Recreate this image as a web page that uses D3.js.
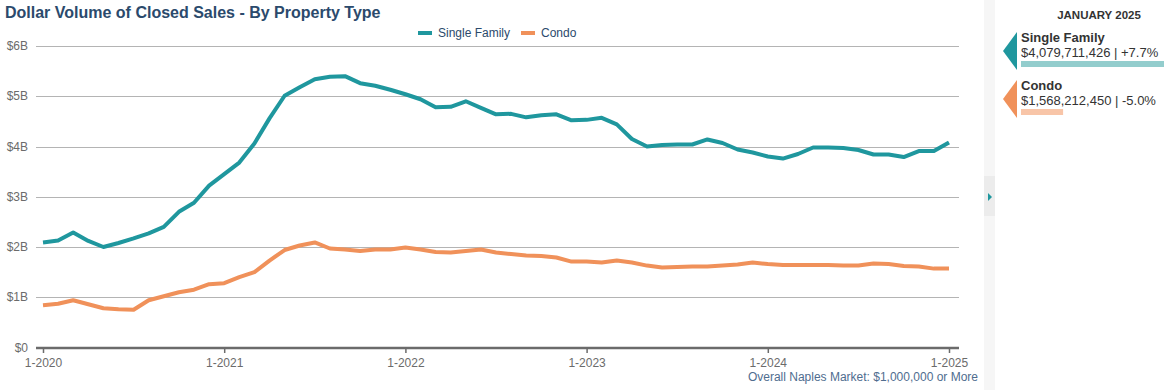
<!DOCTYPE html>
<html>
<head>
<meta charset="utf-8">
<script src="https://cdn.jsdelivr.net/npm/d3@7"></script>
<style>
  body { margin: 0; background: #fff; font-family: "Liberation Sans", Arial, sans-serif; }
</style>
</head>
<body>
<div id="chart"></div>
<script>
// month labels 1-2020 .. 1-2025, values in billions
var months = d3.range(61).map(i => (i % 12 + 1) + "-" + (2020 + Math.floor(i / 12)));
var singleFamily = [2.09, 2.13, 2.29, 2.12, 2.00, 2.08, 2.17, 2.27, 2.40, 2.70, 2.88, 3.22,
    3.45, 3.68, 4.06, 4.56, 5.01, 5.18, 5.34, 5.39, 5.40, 5.26, 5.21, 5.13,
    5.04, 4.94, 4.78, 4.79, 4.90, 4.77, 4.64, 4.65, 4.58, 4.62, 4.64, 4.52,
    4.53, 4.57, 4.44, 4.15, 4.00, 4.03, 4.04, 4.04, 4.14, 4.07, 3.94, 3.88,
    3.80, 3.76, 3.85, 3.98, 3.98, 3.97, 3.93, 3.84, 3.84, 3.79, 3.91, 3.91, 4.08];
var condo = [0.84, 0.87, 0.94, 0.86, 0.78, 0.76, 0.75, 0.94, 1.02, 1.10, 1.15, 1.26,
    1.28, 1.40, 1.50, 1.73, 1.94, 2.03, 2.09, 1.97, 1.95, 1.92, 1.95, 1.95,
    1.99, 1.95, 1.90, 1.89, 1.92, 1.95, 1.89, 1.86, 1.83, 1.82, 1.79, 1.71,
    1.71, 1.69, 1.73, 1.69, 1.63, 1.59, 1.60, 1.61, 1.61, 1.63, 1.65, 1.69,
    1.66, 1.64, 1.64, 1.64, 1.64, 1.63, 1.63, 1.67, 1.66, 1.62, 1.61, 1.57, 1.57];
var yTicks = [0, 1, 2, 3, 4, 5, 6];
var xTickLabels = ["1-2020", "1-2021", "1-2022", "1-2023", "1-2024", "1-2025"];
var seriesNames = ["Single Family", "Condo"];
var seriesColors = ["#1f979e", "#f0915a"];
var barColors = ["#93cdcd", "#f8c5a8"];
var latestLabels = ["$4,079,711,426 | +7.7%", "$1,568,212,450 | -5.0%"];
var latestValues = [4.0797, 1.5682];

var svgWidth = 1164;
var svgHeight = 390;
var margin = { top: 46, bottom: 43, left: 36, right: 205 };
var width = svgWidth - margin.left - margin.right;
var height = svgHeight - margin.top - margin.bottom;

var svg = d3.select("#chart").append("svg")
    .attr("width", svgWidth)
    .attr("height", svgHeight);

// title
svg.append("text")
    .attr("x", 5).attr("y", 18)
    .attr("font-size", 16).attr("font-weight", "bold")
    .attr("fill", "#2b4a6c")
    .text("Dollar Volume of Closed Sales - By Property Type");

var chartGroup = svg.append("g")
    .attr("transform", `translate(${margin.left}, ${margin.top})`);

var xScale = d3.scalePoint()
    .domain(months)
    .range([7, 913]);
var yScale = d3.scaleLinear()
    .domain([0, 6])
    .range([height + 0.5, 0]);

// gridlines
chartGroup.selectAll(".grid")
    .data(yTicks.slice(1))
    .enter().append("line")
    .attr("x1", 0).attr("x2", width)
    .attr("y1", d => Math.round(yScale(d)) + 0.5)
    .attr("y2", d => Math.round(yScale(d)) + 0.5)
    .attr("stroke", "#b4b4b4").attr("stroke-width", 1);

// y labels
chartGroup.selectAll(".ylab")
    .data(yTicks)
    .enter().append("text")
    .attr("x", -8).attr("y", d => yScale(d) + 4)
    .attr("text-anchor", "end")
    .attr("font-size", 12).attr("fill", "#6b6b6b")
    .text(d => d === 0 ? "$0" : "$" + d + "B");

// x axis
var bottomAxis = d3.axisBottom(xScale)
    .tickValues(xTickLabels)
    .tickSize(5);
var xAxis = chartGroup.append("g")
    .attr("transform", `translate(0, ${height + 1})`)
    .call(bottomAxis);
xAxis.select(".domain").attr("stroke", "#6b6b6b").attr("stroke-width", 2.5)
    .attr("d", `M0,0H${width}`);
xAxis.selectAll(".tick line").attr("stroke", "#6b6b6b").attr("stroke-width", 1.5);
xAxis.selectAll(".tick text")
    .attr("font-size", 12).attr("fill", "#6b6b6b")
    .attr("font-family", "Liberation Sans, Arial, sans-serif")
    .attr("dy", "0.9em");

// lines
var line = d3.line()
    .x((d, i) => xScale(months[i]))
    .y(d => yScale(d));
[singleFamily, condo].forEach(function(data, k) {
    chartGroup.append("path")
        .datum(data)
        .attr("fill", "none")
        .attr("stroke", seriesColors[k])
        .attr("stroke-width", 4)
        .attr("stroke-linejoin", "round")
        .attr("d", line);
});

// legend
var legend = svg.append("g").attr("transform", "translate(418, 33)");
var legendX = [0, 103];
seriesNames.forEach(function(name, k) {
    var g = legend.append("g").attr("transform", `translate(${legendX[k]}, 0)`);
    g.append("rect").attr("x", 0).attr("y", -2).attr("width", 14).attr("height", 4)
        .attr("fill", seriesColors[k]);
    g.append("text").attr("x", 20).attr("y", 4)
        .attr("font-size", 12).attr("fill", "#2b4a6c")
        .text(name);
});

// footer
svg.append("text")
    .attr("x", 978).attr("y", 381)
    .attr("text-anchor", "end")
    .attr("font-size", 12).attr("fill", "#4f6d8f")
    .text("Overall Naples Market: $1,000,000 or More");

// divider strip with toggle tab
svg.append("rect").attr("x", 984).attr("y", 0).attr("width", 11).attr("height", svgHeight)
    .attr("fill", "#f6f6f6");
svg.append("rect").attr("x", 984).attr("y", 176).attr("width", 11).attr("height", 40)
    .attr("fill", "#ececec");
svg.append("path").attr("d", "M988,193L992,197L988,201Z").attr("fill", "#1f979e");

// side panel
svg.append("text")
    .attr("x", 1099).attr("y", 19)
    .attr("text-anchor", "middle")
    .attr("font-size", 11.5).attr("font-weight", "bold").attr("fill", "#333")
    .text("JANUARY 2025");

var barScale = d3.scaleLinear().domain([0.52, 4.0797]).range([0, 143]);
seriesNames.forEach(function(name, k) {
    var top = 32 + k * 48;
    var g = svg.append("g").attr("transform", `translate(0, ${top})`);
    g.append("path")
        .attr("d", "M1017,0L1017,38L1003,19Z")
        .attr("fill", seriesColors[k]);
    g.append("text").attr("x", 1021).attr("y", 10)
        .attr("font-size", 13).attr("font-weight", "bold").attr("fill", "#333")
        .text(name);
    g.append("text").attr("x", 1021).attr("y", 25)
        .attr("font-size", 13).attr("fill", "#333")
        .text(latestLabels[k]);
    g.append("rect").attr("x", 1021).attr("y", 29)
        .attr("width", barScale(latestValues[k])).attr("height", 6)
        .attr("fill", barColors[k]);
});
</script>
</body>
</html>
